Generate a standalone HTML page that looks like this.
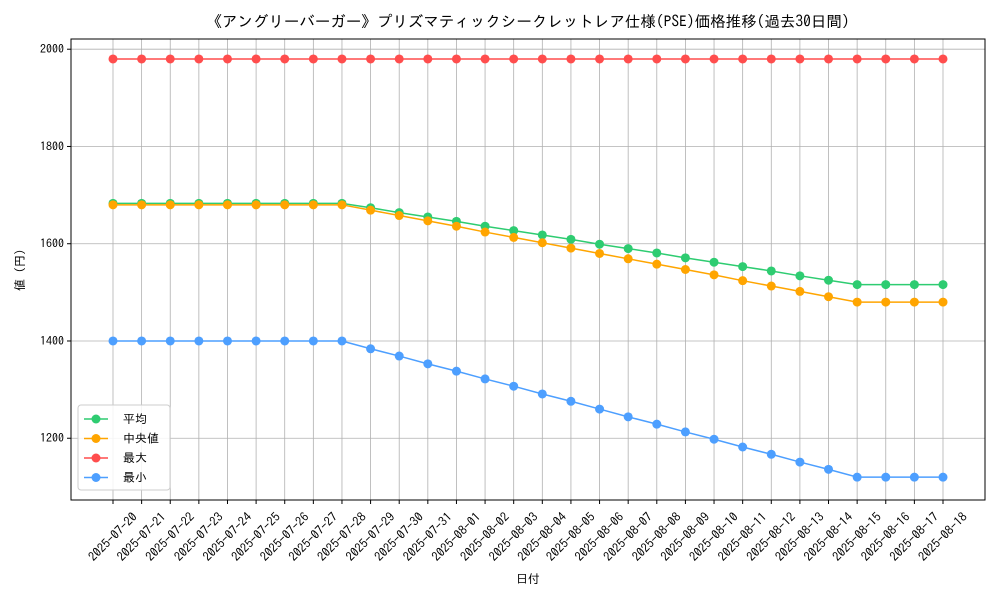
<!DOCTYPE html>
<html><head><meta charset="utf-8">
<style>
body{margin:0;background:#fff;}
svg{font-family:"IPAGothic","Noto Sans CJK JP","Liberation Sans",sans-serif;}
</style></head>
<body>
<svg id="chart" width="1000" height="600" xmlns="http://www.w3.org/2000/svg">
<text x="528" y="27" font-size="15.5" text-anchor="middle">《アングリーバーガー》プリズマティックシークレットレア仕様(PSE)価格推移(過去30日間)</text>
<text x="528" y="583" font-size="12" text-anchor="middle">日付</text>
<text transform="translate(24,270) rotate(-90)" font-size="12" text-anchor="middle">値 (円)</text>
<g id="grid"></g><g id="axes"></g><g id="series"></g>
<g id="legend"></g>
</svg>
<script>
const dates=["2025-07-20","2025-07-21","2025-07-22","2025-07-23","2025-07-24","2025-07-25","2025-07-26","2025-07-27","2025-07-28","2025-07-29","2025-07-30","2025-07-31","2025-08-01","2025-08-02","2025-08-03","2025-08-04","2025-08-05","2025-08-06","2025-08-07","2025-08-08","2025-08-09","2025-08-10","2025-08-11","2025-08-12","2025-08-13","2025-08-14","2025-08-15","2025-08-16","2025-08-17","2025-08-18"];
const avgVals=[1683,1683,1683,1683,1683,1683,1683,1683,1683,1674,1664,1655,1646,1636,1627,1618,1609,1599,1590,1581,1571,1562,1553,1544,1534,1525,1516,1516,1516,1516];
const medVals=[1680,1680,1680,1680,1680,1680,1680,1680,1680,1669,1658,1647,1636,1624,1613,1602,1591,1580,1569,1558,1547,1536,1524,1513,1502,1491,1480,1480,1480,1480];
const maxVals=[1980,1980,1980,1980,1980,1980,1980,1980,1980,1980,1980,1980,1980,1980,1980,1980,1980,1980,1980,1980,1980,1980,1980,1980,1980,1980,1980,1980,1980,1980];
const minVals=[1400,1400,1400,1400,1400,1400,1400,1400,1400,1384,1369,1353,1338,1322,1307,1291,1276,1260,1244,1229,1213,1198,1182,1167,1151,1136,1120,1120,1120,1120];
const yTicks=[1200,1400,1600,1800,2000];
const seriesNames=["平均","中央値","最大","最小"];
const NS="http://www.w3.org/2000/svg";
const L=71,R=985,T=39,B=500;
const yMin=1073,yMax=2021;
const x=i=>113+i*(943-113)/(dates.length-1);
const y=v=>B-(v-yMin)/(yMax-yMin)*(B-T);
function mk(tag,at,parent){const e=document.createElementNS(NS,tag);for(const k in at)e.setAttribute(k,at[k]);parent.appendChild(e);return e;}
const grid=document.getElementById('grid'),axes=document.getElementById('axes'),ser=document.getElementById('series'),leg=document.getElementById('legend');
dates.forEach((d,i)=>{
 const g=mk('line',{x1:x(i),x2:x(i),y1:T,y2:B,stroke:'#b0b0b0','stroke-width':0.8},grid);
 
 
 mk('line',{x1:x(i),x2:x(i),y1:B,y2:B+4,stroke:'#000'},axes);
 const cx=x(i), cy=537;
 const t=mk('text',{x:cx,y:cy+4,'font-size':12.5,'text-anchor':'middle',transform:`rotate(-45 ${cx} ${cy})`},axes);
 t.textContent=d;
 
 
});
yTicks.forEach(v=>{
 const g=mk('line',{x1:L,x2:R,y1:y(v),y2:y(v),stroke:'#b0b0b0','stroke-width':0.8},grid);
 
 
 mk('line',{x1:L-4,x2:L,y1:y(v),y2:y(v),stroke:'#000'},axes);
 const t=mk('text',{x:L-7,y:y(v)+4,'font-size':12,'text-anchor':'end'},axes);
 t.textContent=v;
 
 
});
const fr=mk('rect',{x:L,y:T,width:R-L,height:B-T,fill:'none',stroke:'#000','stroke-width':1},axes);


const all=[[avgVals,'#2ecc71','avg'],[medVals,'#ffa500','median'],[maxVals,'#ff4d4d','max'],[minVals,'#4d9fff','min']];
all.forEach(([vals,c,n])=>{
 const p=mk('polyline',{points:vals.map((v,i)=>x(i)+','+y(v)).join(' '),fill:'none',stroke:c,'stroke-width':1.5},ser);
 
 
 vals.forEach((v,i)=>{
  const m=mk('circle',{cx:x(i),cy:y(v),r:4.5,fill:c},ser);
  
  
 });
});
mk('rect',{x:78,y:405,width:92,height:85,fill:'#fff','fill-opacity':0.85,stroke:'#ccc',rx:3},leg);
all.forEach(([v,c,n],k)=>{
 const yy=419+k*19.5;
 const g=mk('g',{},leg);
 
 
 mk('line',{x1:84,x2:108,y1:yy,y2:yy,stroke:c,'stroke-width':1.5},g);
 mk('circle',{cx:96,cy:yy,r:4.5,fill:c},g);
 const t=mk('text',{x:123,y:yy+4,'font-size':12},g);
 t.textContent=seriesNames[k];
});
</script>
</body></html>
